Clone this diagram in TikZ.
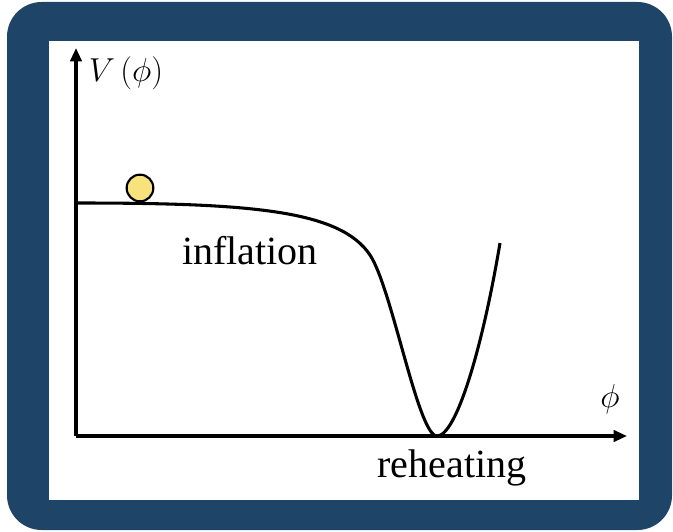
\documentclass[tikz,border=0pt]{standalone}
\usepackage{fontspec}
\setmainfont{Liberation Serif}
\usetikzlibrary{arrows.meta}
\definecolor{frameblue}{HTML}{1E4468}
\definecolor{ballyellow}{HTML}{F8E27E}
\begin{document}
\begin{tikzpicture}[x=0.75pt,y=-0.75pt,
  axis/.style={line width=2.3pt,-{Triangle[length=10pt,width=8.5pt]}},
  curve/.style={line width=2.3pt},
  lbl/.style={font=\fontsize{30}{36}\selectfont,inner sep=0pt}]
\useasboundingbox (0,0) rectangle (673,531);
\fill[frameblue,rounded corners=26pt] (7,2) rectangle (672,530);
\fill[white] (49,41) rectangle (639,500);
\coordinate (O) at (76,436);
\coordinate (ytop) at (76,48);
\coordinate (xend) at (627,436);
\draw[axis] (O) -- (ytop);
\draw[axis] (O) -- (xend);
\draw[curve] (76,203) .. controls (250,203) and (340,210) .. (370,255)
  .. controls (392,288) and (418,436) .. (437,436)
  .. controls (456,436) and (482,350) .. (500,243);
\node[circle,draw=black,line width=1.6pt,fill=ballyellow,minimum size=20pt,inner sep=0pt] (ball) at (140,188) {};
\node[lbl] (vlabel) at (126,73) {$V\,(\phi)$};
\node[lbl] (philabel) at (610,399) {$\phi$};
\node[lbl] (infl) at (250,251) {inflation};
\node[lbl] (reh) at (452,468) {reheating};
\end{tikzpicture}
\end{document}
